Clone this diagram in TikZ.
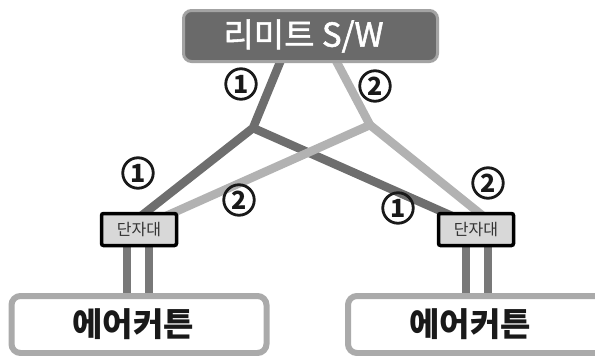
\documentclass[tikz,border=0pt]{standalone}
\usepackage{fontspec}
\newfontfamily\kr{Noto Sans CJK KR}
\newfontfamily\krm[FakeBold=1.6]{Noto Sans CJK KR}
\definecolor{cdark}{HTML}{6E6E6E}
\definecolor{clight}{HTML}{B2B2B2}
\definecolor{cbox}{HTML}{6A6A6A}
\definecolor{cboxborder}{HTML}{A3A3A3}
\definecolor{cframe}{HTML}{AAAAAA}
\definecolor{cterm}{HTML}{D8D8D8}
\definecolor{cleg}{HTML}{787878}
\begin{document}
\begin{tikzpicture}[x=1pt,y=-1pt,
  darkline/.style={line width=8.5pt, draw=cdark},
  lightline/.style={line width=8.5pt, draw=clight},
  legline/.style={line width=8pt, draw=cleg},
  topbox/.style={draw=cboxborder, line width=3pt, fill=cbox, rounded corners=8pt,
     minimum width=254pt, minimum height=51pt, inner sep=0pt,
     font=\krm\fontsize{33}{36}\selectfont, text=white},
  termbox/.style={draw=black, line width=3.5pt, fill=cterm, rounded corners=2pt,
     minimum width=75pt, minimum height=32pt, inner sep=0pt,
     font=\kr\fontsize{16}{18}\selectfont, text=black!80},
  unitbox/.style={draw=cframe, line width=6pt, fill=white, rounded corners=9pt,
     minimum height=57pt, inner sep=0pt,
     font=\kr\bfseries\fontsize{33}{36}\selectfont, text=black!90},
  numc/.style={circle, draw=black!90, line width=2.8pt, minimum size=30.5pt, inner sep=0pt,
     font=\kr\bfseries\fontsize{25}{26}\selectfont, text=black!90}
]
\useasboundingbox (0,0) rectangle (595,356);

% coordinates
\coordinate (dtop) at (283,55);
\coordinate (ltop) at (333,55);
\coordinate (jd) at (253,128);
\coordinate (jl) at (370,125);
\coordinate (dl) at (136,220);
\coordinate (ll) at (157,220);
\coordinate (dr) at (461,220);
\coordinate (lr) at (488,220);

% legs
\coordinate (la1) at (127,240); \coordinate (lb1) at (127,300);
\coordinate (la2) at (149,240); \coordinate (lb2) at (149,300);
\coordinate (ra1) at (466,240); \coordinate (rb1) at (466,300);
\coordinate (ra2) at (488,240); \coordinate (rb2) at (488,300);
\draw[legline] (la1) -- (lb1);
\draw[legline] (la2) -- (lb2);
\draw[legline] (ra1) -- (rb1);
\draw[legline] (ra2) -- (rb2);

% wires
\draw[darkline] (dtop) -- (jd) -- (dl);
\draw[darkline] (jd) -- (dr);
\draw[lightline] (ltop) -- (jl) -- (ll);
\draw[lightline] (jl) -- (lr);

% boxes
\node[topbox] (sw) at (310.5,36) {\hspace{-14pt}리미트 S/W};
\node[termbox] (tl) at (139,229.5) {단자대};
\node[termbox] (tr) at (476,229.5) {단자대};
\node[unitbox, minimum width=255pt] (ul) at (139,324.5) {\hspace{-12pt}에어커튼};
\node[unitbox, minimum width=260pt] (ur) at (478,324.5) {\hspace{-16pt}에어커튼};

% numbers
\node[numc] (n1) at (241,84) {1};
\node[numc] (n2) at (375,86) {2};
\node[numc] (n3) at (138,173) {1};
\node[numc] (n4) at (239,200) {2};
\node[numc] (n5) at (398,208) {1};
\node[numc] (n6) at (488,183) {2};
\end{tikzpicture}
\end{document}
